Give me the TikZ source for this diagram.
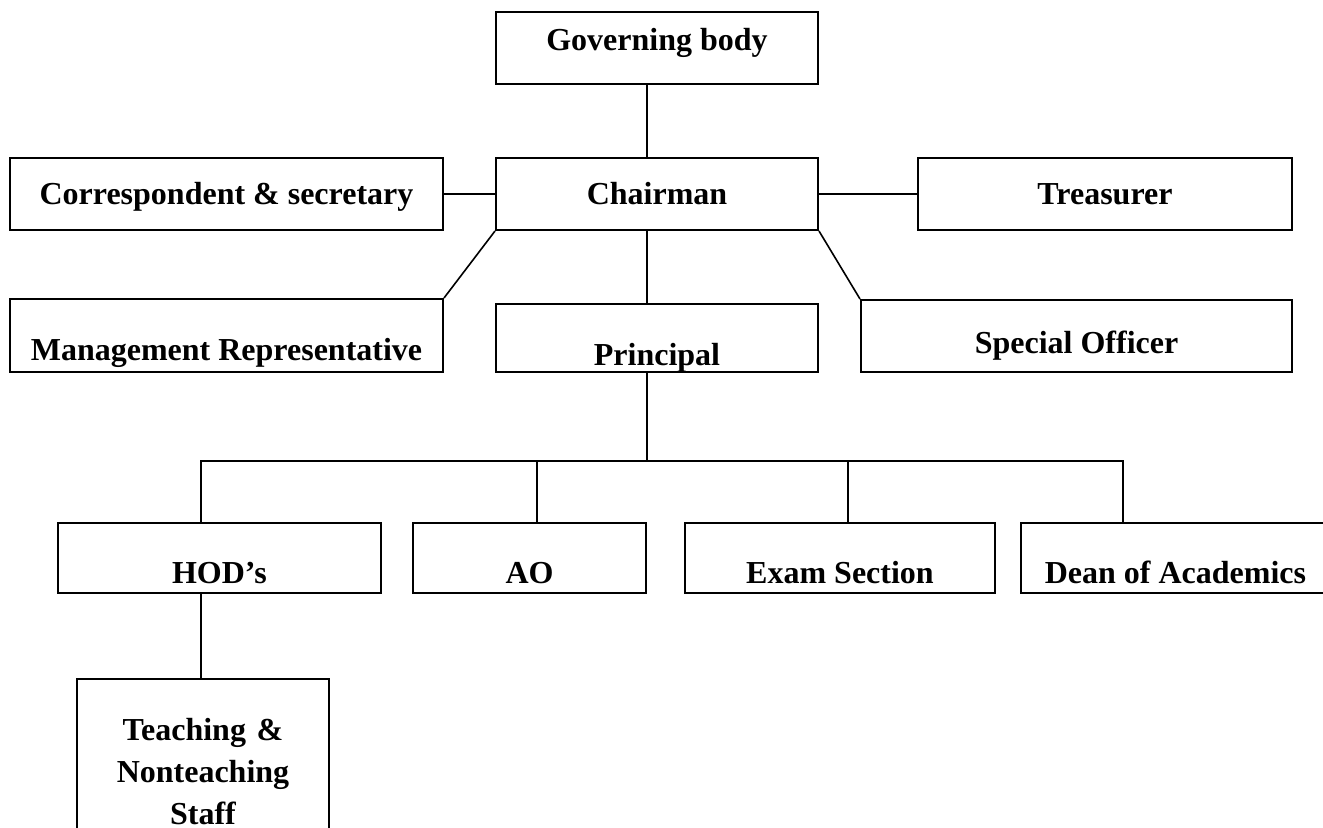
\documentclass[tikz,border=0pt]{standalone}
\usepackage{fontspec}
\setmainfont{Liberation Serif}
\begin{document}
\begin{tikzpicture}[x=0.5pt, y=-0.5pt,
    box/.style={draw, line width=1pt, inner sep=0pt, font=\fontsize{16}{21}\selectfont\bfseries},
    link/.style={line width=0.8pt}]
        \useasboundingbox (0,0) rectangle (1323,827);
        \clip (0,0) rectangle (1323,827);

        % top rows
        \node[box, minimum width=161pt, text height=19pt, text depth=17pt] (gov) at (657,48) {Governing body};
        \node[box, minimum width=161pt, text height=23pt, text depth=13pt] (chair) at (657,194) {Chairman};
        \node[box, minimum width=216.5pt, text height=23pt, text depth=13pt] (corr) at (226.5,194) {Correspondent \& secretary};
        \node[box, minimum width=187pt, text height=23pt, text depth=13pt] (treas) at (1105,194) {Treasurer};
        \node[box, minimum width=216.5pt, text height=30.5pt, text depth=6pt] (mgmt) at (226.5,335.5) {Management Representative};
        \node[box, minimum width=161pt, text height=30.5pt, text depth=3.5pt] (princ) at (657,338) {Principal};
        \node[box, minimum width=215.5pt, text height=26.5pt, text depth=9.5pt] (spec) at (1076.5,336) {Special Officer};

        % under the principal
        \node[box, minimum width=161.5pt, text height=30pt, text depth=5pt] (hod) at (219.5,558) {HOD’s};
        \node[box, minimum width=116.5pt, text height=30pt, text depth=5pt] (ao) at (529.5,558) {AO};
        \node[box, minimum width=155pt, text height=30pt, text depth=5pt] (exam) at (840,558) {Exam Section};
        \node[box, minimum width=154.5pt, text height=30pt, text depth=5pt] (dean) at (1175.5,558) {Dean of Academics};
        \node[box, anchor=north, text width=126pt, align=center, text height=30.5pt, text depth=45pt] (staff) at (203,678) {Teaching \&\\Nonteaching\\Staff};

        \draw[link] ([xshift=-5pt]gov.south) -- ([xshift=-5pt]chair.north);
        \draw[link] (corr.east) -- (chair.west);
        \draw[link] (chair.east) -- (treas.west);
        \draw[link] (chair.south west) -- (mgmt.north east);
        \draw[link] (chair.south east) -- (spec.north west);
        \draw[link] ([xshift=-5pt]chair.south) -- ([xshift=-5pt]princ.north);

        \coordinate (bar) at (647,461);
        \draw[link] ([xshift=-5pt]princ.south) -- (bar);
        \draw[link] ([xshift=-9.25pt]hod.north) |- (bar) -| ([xshift=-26.25pt]dean.north);
        \draw[link] ([xshift=3.75pt]ao.north) -- ([xshift=3.75pt]ao.north |- bar);
        \draw[link] ([xshift=4pt]exam.north) -- ([xshift=4pt]exam.north |- bar);
        \draw[link] ([xshift=-9.25pt]hod.south) -- ([xshift=-1pt]staff.north);
\end{tikzpicture}
\end{document}
